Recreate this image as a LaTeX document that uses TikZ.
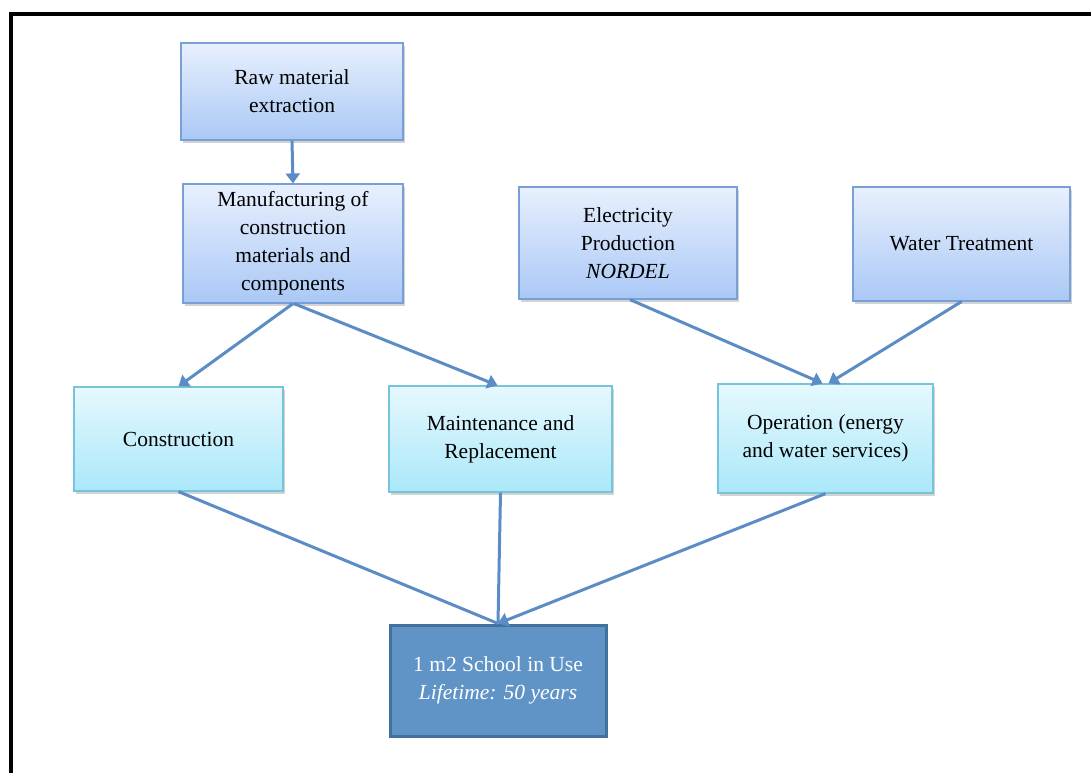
\documentclass[tikz,border=0pt]{standalone}
\usepackage{fontspec}
\setmainfont{Liberation Serif}
\usetikzlibrary{arrows.meta,shadows}

\definecolor{flowline}{RGB}{91,140,197}
\definecolor{topedge}{RGB}{120,160,215}
\definecolor{toplight}{RGB}{232,240,253}
\definecolor{topdark}{RGB}{170,200,246}
\definecolor{midedge}{RGB}{118,196,218}
\definecolor{midlight}{RGB}{230,248,254}
\definecolor{middark}{RGB}{170,232,250}
\definecolor{usefill}{RGB}{96,148,199}
\definecolor{useedge}{RGB}{65,113,156}

\tikzset{
	stagebox/.style={draw=topedge, line width=1.2pt, top color=toplight, bottom color=topdark,
		align=center, inner sep=2pt, drop shadow={opacity=0.35, shadow xshift=2pt, shadow yshift=-3pt}},
	phasebox/.style={draw=midedge, line width=1.2pt, top color=midlight, bottom color=middark,
		align=center, inner sep=2pt, drop shadow={opacity=0.35, shadow xshift=2pt, shadow yshift=-3pt}},
	usebox/.style={draw=useedge, line width=3pt, fill=usefill, text=white, align=center, inner sep=2pt},
	flow/.style={flowline, line width=3pt, -{Triangle[length=10pt,width=14pt]}},
	link/.style={flowline, line width=3pt}
}

\begin{document}
\begin{tikzpicture}[x=1pt, y=-1pt, font=\fontsize{21.5}{28}\selectfont]
		
		\useasboundingbox (0,0) rectangle (1091,772);
		\begin{scope}
			\clip (0,0) rectangle (1091,772);
			\draw[line width=3.5pt] (11,14) rectangle (1120,800);
		\end{scope}
		
		% Upstream stages
		\node[stagebox, minimum width=222, minimum height=97] (raw) at (292,91.5) {Raw material\\extraction};
		\node[stagebox, minimum width=220, minimum height=119] (manuf) at (293,243.5) {Manufacturing of\\construction\\materials and\\components};
		\node[stagebox, minimum width=218, minimum height=112] (elec) at (628,243) {Electricity\\Production\\\textit{NORDEL}};
		\node[stagebox, minimum width=217, minimum height=114] (water) at (961.5,244) {Water Treatment};
		
		% Life cycle phases
		\node[phasebox, minimum width=209, minimum height=104] (constr) at (178.5,439) {Construction};
		\node[phasebox, minimum width=223, minimum height=106] (maint) at (500.5,439) {Maintenance and\\Replacement};
		\node[phasebox, minimum width=215, minimum height=109] (oper) at (825.5,438.5) {Operation (energy\\and water services)};
		
		% Functional unit
		\node[usebox, minimum width=216, minimum height=111] (school) at (498,680.5) {1 m2 School in Use\\\textit{Lifetime: 50 years}};
		
		% Arrows between stages
		\draw[flow] (raw.south) -- (manuf.north);
		\draw[flow] (manuf.south) -- (constr.north);
		\draw[flow] ([xshift=1pt]manuf.south) -- ([xshift=-3pt]maint.north);
		\draw[flow] ([xshift=2pt]elec.south) -- ([xshift=-3pt]oper.north);
		\draw[flow] (water.south) -- ([xshift=3pt]oper.north);
		
		% Lines into the school
		\draw[link] (constr.south) -- (school.north);
		\draw[link] (maint.south) -- (school.north);
		\draw[flow] (oper.south) -- (school.north);
		
	\end{tikzpicture}
\end{document}
